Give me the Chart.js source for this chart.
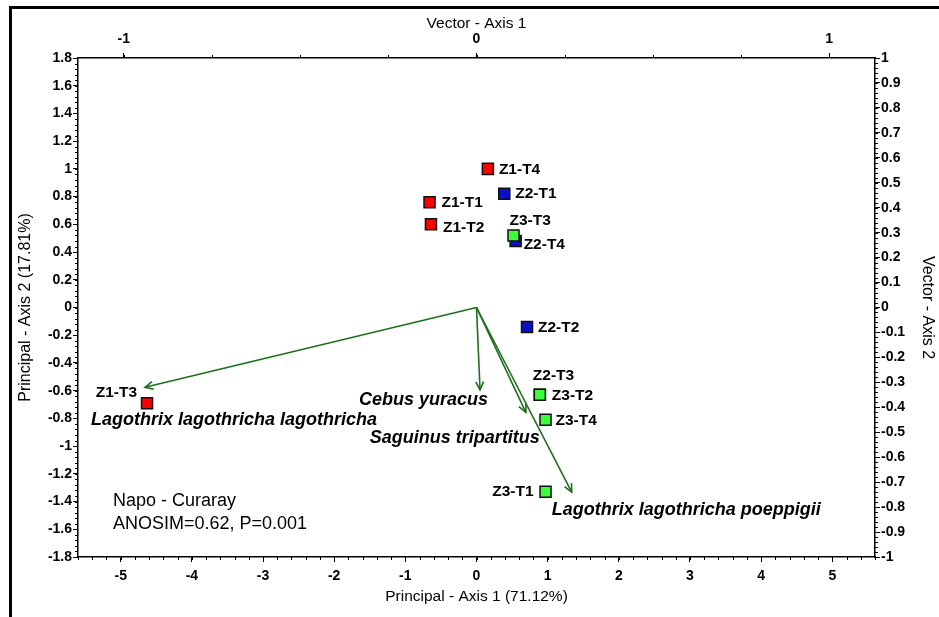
<!DOCTYPE html>
<html>
<head>
<meta charset="utf-8">
<script src="https://cdn.jsdelivr.net/npm/chart.js@4.4.1/dist/chart.umd.min.js"></script>
<style>
html,body{margin:0;padding:0;background:#fff;}
#wrap{position:relative;width:939px;height:617px;overflow:hidden;background:#fff;}
#frame{position:absolute;left:9px;top:6px;width:960px;height:640px;border-top:3px solid #000;border-left:3px solid #000;pointer-events:none;}
canvas{position:absolute;left:0;top:0;}
</style>
</head>
<body>
<div id="wrap"><canvas id="c" width="939" height="617"></canvas><div id="frame"></div></div>
<script>
// ---------------- data ----------------
const zone1Labels = ['Z1-T1', 'Z1-T2', 'Z1-T3', 'Z1-T4'];
const zone1X = [-0.66, -0.64, -4.63, 0.16];
const zone1Y = [0.76, 0.60, -0.69, 1.00];

const zone2Labels = ['Z2-T1', 'Z2-T2', 'Z2-T3', 'Z2-T4'];
const zone2X = [0.39, 0.71, 0.89, 0.55];
const zone2Y = [0.82, -0.14, -0.63, 0.48];

const zone3Labels = ['Z3-T1', 'Z3-T2', 'Z3-T3', 'Z3-T4'];
const zone3X = [0.97, 0.89, 0.52, 0.97];
const zone3Y = [-1.33, -0.63, 0.52, -0.81];

const vectorNames = ['Lagothrix lagothricha lagothricha', 'Cebus yuracus', 'Saguinus tripartitus', 'Lagothrix lagothricha poeppigii'];
const vectorX = [-0.94, 0.01, 0.14, 0.27];
const vectorY = [-0.32, -0.33, -0.42, -0.74];

const principalXTicks = [-5, -4, -3, -2, -1, 0, 1, 2, 3, 4, 5];
const principalYTicks = [1.8, 1.6, 1.4, 1.2, 1, 0.8, 0.6, 0.4, 0.2, 0, -0.2, -0.4, -0.6, -0.8, -1, -1.2, -1.4, -1.6, -1.8];
const vectorXTicks = [-1, 0, 1];
const vectorYTicks = [1, 0.9, 0.8, 0.7, 0.6, 0.5, 0.4, 0.3, 0.2, 0.1, 0, -0.1, -0.2, -0.3, -0.4, -0.5, -0.6, -0.7, -0.8, -0.9, -1];

const principalXTitle = 'Principal - Axis 1 (71.12%)';
const principalYTitle = 'Principal - Axis 2 (17.81%)';
const vectorXTitle = 'Vector - Axis 1';
const vectorYTitle = 'Vector - Axis 2';
const annotationLines = ['Napo - Curaray', 'ANOSIM=0.62, P=0.001'];

// ---------------- layout / style (not data) ----------------
const FONT = '"Liberation Sans", Arial, Helvetica, sans-serif';
const ARROW = '#1e6e1e';
const zoneColors = ['#ff0000', '#0a10c8', '#3cff3c'];
// label offsets in pixels from marker centre: [dx, dy, align]
const pointLabelPlacement = {
  'Z1-T1': [12, 1, 'left'], 'Z1-T2': [12, 3, 'left'], 'Z1-T3': [-10, -10, 'right'], 'Z1-T4': [11, 1, 'left'],
  'Z2-T1': [11, 0, 'left'], 'Z2-T2': [11, 1, 'left'], 'Z2-T3': [-7, -19, 'left'], 'Z2-T4': [8, 4, 'left'],
  'Z3-T1': [-12, 0, 'right'], 'Z3-T2': [12, 1, 'left'], 'Z3-T3': [-4, -15, 'left'], 'Z3-T4': [10, 1, 'left']
};
// species label offsets from arrow tip
const vectorLabelPlacement = [[-54, 33, 'left'], [8, 10, 'right'], [14, 26, 'right'], [-20, 18, 'left']];
const minorSteps = { x: 0.2, y: 0.04, x2: 0.25, y2: 0.02 };

function fmt(v) { return String(Math.round(v * 100) / 100); }
function asc(arr) { return arr.slice().sort((a, b) => a - b); }

function axis(pos, min, max, ticksArr, title, titlePad, fitSize, tickPad, titleSize) {
  return {
    type: 'linear', position: pos, min: min, max: max,
    afterBuildTicks: s => { s.ticks = asc(ticksArr).map(v => ({ value: v })); },
    afterFit: s => { if (s.isHorizontal()) s.height = fitSize; else s.width = fitSize; },
    ticks: { font: { family: FONT, size: 14, weight: 'bold' }, color: '#000', padding: tickPad, autoSkip: false, maxRotation: 0, callback: v => fmt(v) },
    grid: { display: true, drawOnChartArea: false, drawTicks: true, tickLength: 5, color: '#000', tickColor: '#000', tickWidth: 1 },
    border: { display: true, color: '#000', width: 1.5 },
    title: { display: true, text: title, font: { family: FONT, size: titleSize }, color: '#000', padding: titlePad }
  };
}

function pts(xs, ys) { return xs.map((x, i) => ({ x: x, y: ys[i] })); }

const datasets = [];
vectorNames.forEach((n, i) => {
  datasets.push({
    label: n, data: [{ x: 0, y: 0 }, { x: vectorX[i], y: vectorY[i] }],
    xAxisID: 'x2', yAxisID: 'y2', showLine: true, pointRadius: 0, borderColor: ARROW, borderWidth: 1.6, order: 5, isVector: true
  });
});
[[zone1Labels, zone1X, zone1Y, 3], [zone2Labels, zone2X, zone2Y, 2], [zone3Labels, zone3X, zone3Y, 1]].forEach((z, k) => {
  datasets.push({
    label: 'Z' + (k + 1), names: z[0], data: pts(z[1], z[2]), xAxisID: 'x', yAxisID: 'y',
    pointStyle: 'rect', pointRadius: 7.8, pointBackgroundColor: zoneColors[k], pointBorderColor: '#111', pointBorderWidth: 1.5,
    showLine: false, order: z[3]
  });
});

const overlay = {
  id: 'overlay',
  afterDatasetsDraw(chart) {
    const ctx = chart.ctx;
    ctx.save();
    // arrowheads + species labels
    chart.data.datasets.forEach((ds, i) => {
      if (!ds.isVector) return;
      const m = chart.getDatasetMeta(i).data;
      const x0 = m[0].x, y0 = m[0].y, x1 = m[1].x, y1 = m[1].y;
      const a = Math.atan2(y1 - y0, x1 - x0), L = 9, t = 0.45;
      ctx.strokeStyle = ARROW; ctx.lineWidth = 1.6;
      ctx.beginPath();
      ctx.moveTo(x1 - L * Math.cos(a - t), y1 - L * Math.sin(a - t));
      ctx.lineTo(x1, y1);
      ctx.lineTo(x1 - L * Math.cos(a + t), y1 - L * Math.sin(a + t));
      ctx.stroke();
      const vi = vectorNames.indexOf(ds.label);
      const p = vectorLabelPlacement[vi];
      ctx.fillStyle = '#000';
      ctx.font = 'italic bold 18px ' + FONT;
      ctx.textAlign = p[2]; ctx.textBaseline = 'middle';
      ctx.fillText(ds.label, x1 + p[0], y1 + p[1]);
    });
    // point labels
    chart.data.datasets.forEach((ds, i) => {
      if (!ds.names) return;
      const m = chart.getDatasetMeta(i).data;
      ctx.font = 'bold 15.5px ' + FONT;
      ctx.fillStyle = '#000'; ctx.textBaseline = 'middle';
      ds.names.forEach((n, j) => {
        const p = pointLabelPlacement[n];
        ctx.textAlign = p[2];
        ctx.fillText(n, m[j].x + p[0], m[j].y + p[1]);
      });
    });
    // annotation
    const ca = chart.chartArea;
    ctx.font = '18px ' + FONT; ctx.textAlign = 'left'; ctx.textBaseline = 'middle'; ctx.fillStyle = '#000';
    annotationLines.forEach((t, k) => ctx.fillText(t, ca.left + 35, ca.bottom - 56 + k * 23));
    ctx.restore();
  },
  afterDraw(chart) {
    const ctx = chart.ctx;
    ctx.save();
    ctx.strokeStyle = '#000'; ctx.lineWidth = 1;
    Object.keys(minorSteps).forEach(id => {
      const s = chart.scales[id], st = minorSteps[id];
      const n0 = Math.ceil(s.min / st - 1e-6), n1 = Math.floor(s.max / st + 1e-6);
      ctx.beginPath();
      for (let n = n0; n <= n1; n++) {
        const p = Math.round(s.getPixelForValue(n * st)) + 0.5;
        if (s.position === 'bottom') { ctx.moveTo(p, s.top); ctx.lineTo(p, s.top + 3); }
        else if (s.position === 'top') { ctx.moveTo(p, s.bottom); ctx.lineTo(p, s.bottom - 3); }
        else if (s.position === 'left') { ctx.moveTo(s.right, p); ctx.lineTo(s.right - 3, p); }
        else { ctx.moveTo(s.left, p); ctx.lineTo(s.left + 3, p); }
      }
      ctx.stroke();
    });
    ctx.restore();
  }
};

new Chart(document.getElementById('c'), {
  type: 'scatter',
  data: { datasets: datasets },
  options: {
    responsive: false, animation: false, devicePixelRatio: 1,
    layout: { padding: 0 },
    plugins: { legend: { display: false }, tooltip: { enabled: false } },
    scales: {
      x: axis('bottom', -5.6, 5.6, principalXTicks, principalXTitle, { top: 0, bottom: 11 }, 60, 6, 15.5),
      y: axis('left', -1.8, 1.8, principalYTicks, principalYTitle, { top: 16, bottom: 0 }, 78, 1, 16),
      x2: axis('top', -1.13, 1.13, vectorXTicks, vectorXTitle, { top: 14, bottom: 0 }, 58, 5, 15.5),
      y2: axis('right', -1, 1, vectorYTicks, vectorYTitle, { top: 2, bottom: 0 }, 64, 1, 16)
    }
  },
  plugins: [overlay]
});
</script>
</body>
</html>
